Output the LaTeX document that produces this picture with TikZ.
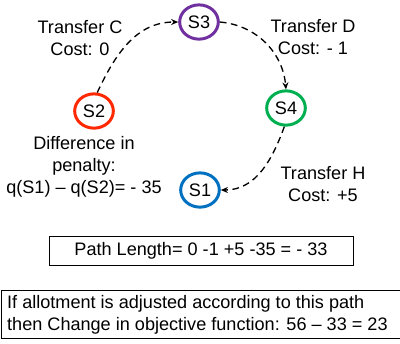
\documentclass[tikz,border=0pt]{standalone}
\usepackage{fontspec}
\setmainfont{Liberation Sans}
\usetikzlibrary{arrows.meta,shapes.geometric}

\definecolor{sred}{RGB}{255,40,0}
\definecolor{spurple}{RGB}{112,48,160}
\definecolor{sgreen}{RGB}{0,176,80}
\definecolor{sblue}{RGB}{0,112,192}

\tikzset{
  station/.style={ellipse, draw, line width=1.7pt, minimum width=22pt, minimum height=19.5pt, inner sep=0pt, font=\fontsize{10.3}{12}\selectfont},
  label/.style={align=center, font=\fontsize{10.3}{12.4}\selectfont},
  move/.style={-{Stealth[length=4pt,width=3.4pt]}, dash pattern=on 3.8pt off 2.6pt, line width=0.75pt},
}

\begin{document}
\begin{tikzpicture}[x=0.02cm,y=-0.02cm]
   \useasboundingbox (0,0) rectangle (400,343);
   \node[station,draw=sred]    (s2) at (94,111)  {S2};
   \node[station,draw=spurple] (s3) at (199,22)  {S3};
   \node[station,draw=sgreen]  (s4) at (286,108) {S4};
   \node[station,draw=sblue]   (s1) at (200,190) {S1};
   \draw[move] (s2.80) to[out=65,in=180] (s3.west);
   \draw[move] (s3.east) to[out=-5,in=95] (s4.north);
   \draw[move] (s4.265) to[out=-110,in=0] (s1.east);
   \node[label] (tc) at (80,38)  {Transfer C\\Cost: 0};
   \node[label] (td) at (313,37) {Transfer D\\Cost: - 1};
   \node[label] (th) at (323,184) {Transfer H\\Cost: +5};
   \node[label] (dp) at (84,167) {Difference in\\penalty:\\q(S1) -- q(S2)= - 35};
   \node[draw, line width=0.5pt, minimum width=173pt, minimum height=16pt, font=\fontsize{10.3}{12}\selectfont] (pl) at (201,251) {Path Length= 0 -1 +5 -35 = - 33};
   \draw[line width=0.5pt] (1,290) rectangle (400,338);
   \node[label, align=left, anchor=west] (ob) at (1,315) {If allotment is adjusted according to this path\\then Change in objective function: 56 -- 33 = 23};
  \end{tikzpicture}
\end{document}
